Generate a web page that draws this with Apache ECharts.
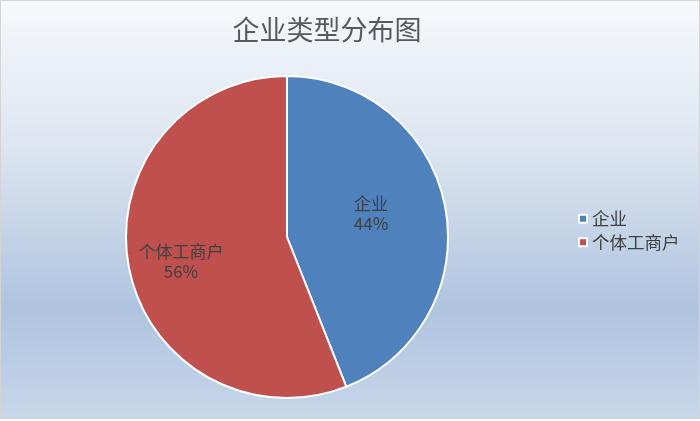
<!DOCTYPE html>
<html><head><meta charset="utf-8">
<script src="https://cdn.jsdelivr.net/npm/echarts@6/dist/echarts.min.js"></script>
<style>
html,body{margin:0;padding:0;background:#fff;}
#c{position:absolute;left:0;top:0;width:698px;height:417px;border:1px solid #d4d4d4;}
</style></head>
<body><div id="c"></div>
<script>
const titleText = '企业类型分布图';
const categories = ['企业', '个体工商户'];
const values = [44, 56];
const colors = ['#4F81BD', '#C0504D'];
const labelOffsets = [[2, -8], [-24, 9]];

const chart = echarts.init(document.getElementById('c'));
const font = '"Noto Sans CJK SC", "Microsoft YaHei", sans-serif';
chart.setOption({
  backgroundColor: {
    type: 'linear', x: 0, y: 0, x2: 0, y2: 1,
    colorStops: [
      {offset: 0, color: '#f6f9fc'},
      {offset: 0.35, color: '#dce5f0'},
      {offset: 0.74, color: '#afc4df'},
      {offset: 1, color: '#c8d7ea'}
    ]
  },
  title: {
    text: titleText, left: 321, top: 10, textAlign: 'center',
    textStyle: {fontFamily: font, fontSize: 27, fontWeight: 'normal', color: '#595959'}
  },
  legend: {
    orient: 'vertical', left: 572, top: 204,
    icon: 'rect', itemWidth: 8, itemHeight: 8, itemGap: 6, itemTextGap: 7,
    textStyle: {fontFamily: font, fontSize: 17.5, color: '#404040'},
    data: categories
  },
  series: [{
    type: 'pie',
    center: [286, 236], radius: 161,
    startAngle: 90, clockwise: true,
    itemStyle: {borderColor: '#ffffff', borderWidth: 2},
    label: {
      position: 'inside', fontFamily: font, fontSize: 17, lineHeight: 20,
      color: '#404040', formatter: '{b}\n{d}%'
    },
    labelLine: {show: false},
    emphasis: {disabled: true},
    data: categories.map((n, i) => ({
      name: n, value: values[i],
      itemStyle: {color: colors[i]},
      label: {offset: labelOffsets[i]}
    }))
  }]
});
</script></body></html>
